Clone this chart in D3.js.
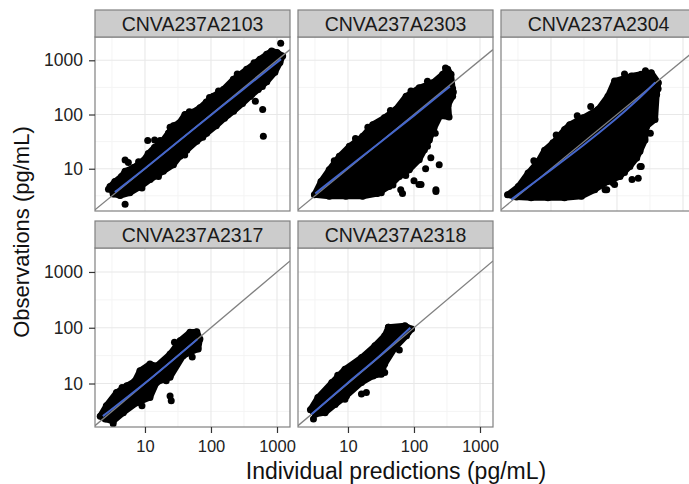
<!DOCTYPE html>
<html lang="en">
<head>
<meta charset="UTF-8" />
<title>Observations vs individual predictions</title>
<style>
  body { margin: 0; background: #fff; }
  text { font-family: "Liberation Sans", Arial, sans-serif; }
</style>
</head>
<body>
<svg width="689" height="484"></svg>
<script src="https://d3js.org/d3.v7.min.js"></script>
<script>
// facet names, in facet_wrap order
const panelNames = ["CNVA237A2103", "CNVA237A2303", "CNVA237A2304", "CNVA237A2317", "CNVA237A2318"];

// axis breaks (pg/mL)
const majorBreaks = [10, 100, 1000];
const minorBreaks = [3.16, 31.6, 316];
const xLimits = [1.75, 1574];
const yLimits = [1.66, 2690];

// each dense cloud: upper edge (left->right) then lower edge (right->left), [pred, obs]
const edge2103 = [
  [2.95, 4.7], [3.5, 5.8], [4.4, 7.2], [5.0, 9.0], [6.7, 10.5], [9.4, 14], [11.2, 19], [14, 25],
  [17.9, 31], [22.7, 45.8], [26.9, 62], [33, 70], [40.3, 100], [52, 110], [68, 133], [85, 170],
  [108, 218], [154, 290], [218, 445], [347, 681], [552, 1045], [697, 1291], [830, 1489], [1000, 1400],
  [1219, 1202], [1109, 906], [930, 600], [700, 400], [520, 290], [390, 215], [300, 160], [220, 115],
  [160, 85], [120, 62], [86, 45], [61, 32], [43, 22], [34, 17], [27, 11.9], [19, 9.0], [12, 6.3],
  [8.4, 4.6], [5.9, 3.6], [4.2, 3.2], [3.3, 3.4]
];
const spread2103 = [
  [1138, 2065], [5.0, 2.2], [470, 176], [607, 124], [621, 39.6], [413, 234], [5.0, 14.5], [5.6, 13],
  [11, 33], [14, 34], [17, 33], [27, 60], [24, 58], [8, 13.5], [47, 112], [95, 205], [130, 270],
  [250, 560], [450, 900], [180, 100], [75, 38], [40, 18], [16, 7.2], [9, 4.4], [600, 330], [2.8, 4.2]
];
const fit2103 = [[3.5, 3.7], [10, 10], [30, 30], [100, 98], [300, 285], [1150, 1050]];

const edge2303 = [
  [3.1, 3.3], [3.9, 5.8], [5.2, 9.6], [7.4, 16.9], [10.5, 25.9], [16.7, 39.6], [23.7, 65], [35.5, 87],
  [53, 124], [76, 218], [120, 312], [192, 385], [272, 551], [324, 681], [364, 551], [385, 300],
  [385, 218], [330, 150], [340, 90], [250, 95], [200, 55], [171, 34], [144, 22.5], [120, 14.7],
  [85, 9.6], [60, 7.2], [42, 4.7], [28, 3.5], [16.7, 3.1], [9.3, 3.1], [5.2, 3.1]
];
const spread2303 = [
  [241, 11.9], [215, 3.8], [119, 5.1], [63, 4.1], [32, 3.6], [128, 5.1], [67, 3.5], [150, 10],
  [100, 6], [180, 16], [215, 4.1], [20, 58], [44, 118], [90, 270], [160, 410], [300, 720],
  [6.2, 14], [13, 36], [395, 260], [290, 120], [210, 45], [160, 26], [75, 7.5], [48, 5]
];
const fit2303 = [[3.2, 3.5], [10, 10.5], [30, 30], [100, 95], [350, 330]];

const edge2304 = [
  [2.2, 3.3], [3.2, 4.7], [4.5, 8.3], [6.4, 13.6], [8.0, 22], [10.7, 30], [16.1, 53], [19.2, 65],
  [30.5, 87], [51.5, 124], [73, 218], [92, 414], [165, 513], [233, 551], [331, 591], [423, 385],
  [399, 234], [377, 81], [282, 61], [266, 34], [223, 21], [199, 15.8], [157, 11], [111, 7.2],
  [73, 5.8], [46, 4.1], [29, 3.1], [16, 2.9], [9, 2.9], [5, 2.9], [3, 3.0]
];
const spread2304 = [
  [233, 11], [210, 6.7], [92, 5.1], [70, 4.1], [174, 16.6], [224, 11], [87, 5.5], [66, 4.1], [169, 6.3],
  [40, 140], [25, 95], [12, 42], [5.5, 14], [130, 560], [270, 640], [420, 300], [320, 45], [130, 8.5]
];
const fit2304 = [[2.5, 2.7], [10, 9.5], [30, 26], [100, 85], [200, 180], [380, 390]];

const edge2317 = [
  [2.1, 2.6], [2.6, 4.0], [3.7, 6.9], [5.3, 9.1], [7, 11], [8.4, 17], [11.9, 22.3], [15, 20.7],
  [24, 33.7], [34, 58.7], [48, 83], [61, 85], [68, 63], [64, 41.5], [48, 36], [38, 31.5], [24, 13],
  [15, 10.4], [11.9, 5.6], [7.5, 4.5], [4.7, 3.0], [3.3, 2.1], [2.5, 2.3]
];
const spread2317 = [[24, 6.0], [25, 4.9], [21, 11.2], [3.3, 1.9], [4.5, 8.5], [28, 55], [52, 30], [9, 4]];
const fit2317 = [[2.3, 2.6], [10, 10], [30, 30], [62, 62]];

const edge2318 = [
  [2.7, 3.4], [3.5, 5.6], [5.7, 10.4], [9, 18.1], [16.1, 29.4], [25.6, 47.7], [36, 72], [41, 102],
  [73, 109], [92, 95], [77, 72], [52, 44.6], [36, 22.3], [32, 14.7], [24, 13.7], [16, 10.4],
  [9.5, 6.0], [6.4, 4.2], [4.5, 3.0], [3.2, 2.8]
];
const spread2318 = [[3.0, 2.3], [36, 15.8], [19, 6.9], [16, 6.5], [9, 5.2], [41, 102], [7, 14], [60, 40]];
const fit2318 = [[2.8, 2.8], [10, 10.5], [30, 30], [88, 100]];

const edges = [edge2103, edge2303, edge2304, edge2317, edge2318];
const spreads = [spread2103, spread2303, spread2304, spread2317, spread2318];
const fits = [fit2103, fit2303, fit2304, fit2317, fit2318];

const svg = d3.select("svg");

const colLeft = [95, 298, 501];
const panelW = 195;
const rows = [
  { stripTop: 10, top: 37, bottom: 211 },
  { stripTop: 221, top: 248, bottom: 427 }
];

const pointR = 3.5;

panelNames.forEach((name, i) => {
  const col = i % 3, row = Math.floor(i / 3);
  const r = rows[row];
  const x0 = colLeft[col];
  const x = d3.scaleLog().domain(xLimits).range([x0, x0 + panelW]);
  const y = d3.scaleLog().domain(yLimits).range([r.bottom, r.top]);

  const g = svg.append("g");
  const clipId = "clip" + i;
  g.append("clipPath").attr("id", clipId)
    .append("rect").attr("x", x0).attr("y", r.top)
    .attr("width", panelW).attr("height", r.bottom - r.top);

  g.append("rect").attr("x", x0).attr("y", r.top)
    .attr("width", panelW).attr("height", r.bottom - r.top).attr("fill", "#fff");

  // grid
  const grid = g.append("g");
  minorBreaks.forEach(v => {
    grid.append("line").attr("x1", x(v)).attr("x2", x(v)).attr("y1", r.top).attr("y2", r.bottom)
      .attr("stroke", "#f4f4f4").attr("stroke-width", 1);
    grid.append("line").attr("y1", y(v)).attr("y2", y(v)).attr("x1", x0).attr("x2", x0 + panelW)
      .attr("stroke", "#f4f4f4").attr("stroke-width", 1);
  });
  majorBreaks.forEach(v => {
    grid.append("line").attr("x1", x(v)).attr("x2", x(v)).attr("y1", r.top).attr("y2", r.bottom)
      .attr("stroke", "#e8e8e8").attr("stroke-width", 1.1);
    grid.append("line").attr("y1", y(v)).attr("y2", y(v)).attr("x1", x0).attr("x2", x0 + panelW)
      .attr("stroke", "#e8e8e8").attr("stroke-width", 1.1);
  });

  const plot = g.append("g").attr("clip-path", `url(#${clipId})`);

  // point cloud
  const cloud = d3.line().x(d => x(d[0])).y(d => y(d[1])).curve(d3.curveLinearClosed);
  plot.append("path").attr("d", cloud(edges[i]))
    .attr("fill", "#000").attr("stroke", "#000")
    .attr("stroke-width", 6).attr("stroke-linejoin", "round");
  plot.selectAll("circle.pt").data(edges[i].concat(spreads[i])).join("circle")
    .attr("class", "pt")
    .attr("cx", d => x(d[0])).attr("cy", d => y(d[1])).attr("r", pointR)
    .attr("fill", "#000");

  // identity line
  plot.append("line")
    .attr("x1", x(xLimits[0])).attr("y1", y(xLimits[0]))
    .attr("x2", x(xLimits[1])).attr("y2", y(xLimits[1]))
    .attr("stroke", "#808080").attr("stroke-width", 1.3);

  // smoother
  const fitLine = d3.line().x(d => x(d[0])).y(d => y(d[1])).curve(d3.curveBasis);
  plot.append("path").attr("d", fitLine(fits[i]))
    .attr("fill", "none").attr("stroke", "#4466cc").attr("stroke-width", 2);

  // border
  g.append("rect").attr("x", x0).attr("y", r.top)
    .attr("width", panelW).attr("height", r.bottom - r.top)
    .attr("fill", "none").attr("stroke", "#808080").attr("stroke-width", 1.2);

  // strip
  g.append("rect").attr("x", x0).attr("y", r.stripTop)
    .attr("width", panelW).attr("height", r.top - r.stripTop)
    .attr("fill", "#cccccc").attr("stroke", "#808080").attr("stroke-width", 1.2);
  g.append("text").attr("x", x0 + panelW / 2).attr("y", (r.stripTop + r.top) / 2)
    .attr("dy", "0.36em").attr("text-anchor", "middle")
    .attr("font-size", 19.5).attr("fill", "#1a1a1a").text(name);

  // axes
  if (col === 0) {
    const ax = g.append("g").attr("transform", `translate(${x0},0)`)
      .call(d3.axisLeft(y).tickValues(majorBreaks).tickFormat(d3.format("d")).tickSize(6).tickPadding(6));
    ax.select(".domain").remove();
    ax.selectAll("line").attr("stroke", "#333").attr("stroke-width", 1.2);
    ax.selectAll("text").attr("font-size", 17.5).attr("fill", "#222")
      .attr("font-family", "Liberation Sans, Arial, sans-serif");
  }
  if (row === 1) {
    const ax = g.append("g").attr("transform", `translate(0,${r.bottom})`)
      .call(d3.axisBottom(x).tickValues(majorBreaks).tickFormat(d3.format("d")).tickSize(6).tickPadding(7));
    ax.select(".domain").remove();
    ax.selectAll("line").attr("stroke", "#333").attr("stroke-width", 1.2);
    ax.selectAll("text").attr("font-size", 16.5).attr("fill", "#222")
      .attr("font-family", "Liberation Sans, Arial, sans-serif");
  }
});

// axis titles
svg.append("text").attr("x", 396).attr("y", 479).attr("text-anchor", "middle")
  .attr("font-size", 23).attr("fill", "#111").text("Individual predictions (pg/mL)");
svg.append("text").attr("transform", "translate(29,232) rotate(-90)").attr("text-anchor", "middle")
  .attr("font-size", 22).attr("fill", "#111").text("Observations (pg/mL)");
</script>
</body>
</html>
